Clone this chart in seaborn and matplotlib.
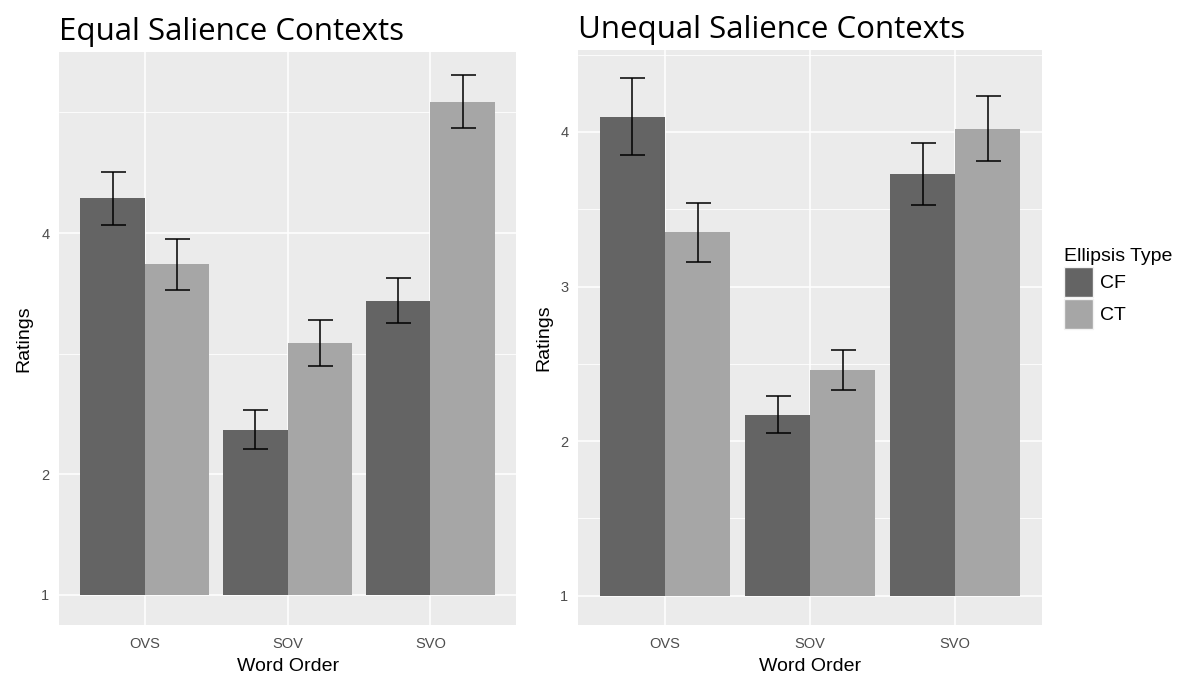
import pandas as pd
import seaborn as sns
import matplotlib.pyplot as plt
from matplotlib.ticker import FixedLocator

# Values
word_order = ['OVS', 'SOV', 'SVO']
ellipsis = ['CF', 'CT']

equal_cf = [4.29, 2.37, 3.44]
equal_ct = [3.74, 3.09, 5.09]
equal_cf_se = [0.22, 0.16, 0.19]
equal_ct_se = [0.21, 0.19, 0.22]

unequal_cf = [4.10, 2.17, 3.73]
unequal_ct = [3.35, 2.46, 4.02]
unequal_cf_se = [0.25, 0.12, 0.20]
unequal_ct_se = [0.19, 0.13, 0.21]

colors = {'CF': '#646464', 'CT': '#a6a6a6'}

sns.set_theme(style='darkgrid')
plt.rcParams['font.family'] = ['Liberation Sans', 'DejaVu Sans']


def make_df(cf, ct, cf_se, ct_se):
    rows = []
    for i, w in enumerate(word_order):
        rows.append({'Word Order': w, 'Ellipsis Type': 'CF', 'Ratings': cf[i], 'se': cf_se[i]})
        rows.append({'Word Order': w, 'Ellipsis Type': 'CT', 'Ratings': ct[i], 'se': ct_se[i]})
    return pd.DataFrame(rows)


def draw(ax, df, title, ylim, major, minor, legend):
    sns.barplot(data=df, x='Word Order', y='Ratings', hue='Ellipsis Type',
                order=word_order, hue_order=ellipsis, palette=colors,
                width=0.9, errorbar=None, saturation=1, linewidth=0,
                legend=legend, ax=ax)
    # bars in the original start at 1
    for p in ax.patches:
        h = p.get_height()
        if h > 0:
            p.set_y(1)
            p.set_height(h - 1)
    # error bars
    for e in ellipsis:
        sub = df[df['Ellipsis Type'] == e]
        xs = [word_order.index(w) + (-0.225 if e == 'CF' else 0.225) for w in sub['Word Order']]
        ax.errorbar(xs, sub['Ratings'], yerr=sub['se'], fmt='none', ecolor='black',
                    elinewidth=1.1, capsize=9, capthick=1.1, zorder=5)
    ax.set_facecolor('#ebebeb')
    ax.set_ylim(*ylim)
    ax.set_xlim(-0.6, 2.6)
    ax.yaxis.set_major_locator(FixedLocator(major))
    ax.yaxis.set_minor_locator(FixedLocator(minor))
    ax.grid(which='major', color='white', linewidth=1.1)
    ax.grid(which='minor', axis='y', color='white', linewidth=0.6)
    ax.set_axisbelow(True)
    for s in ax.spines.values():
        s.set_visible(False)
    ax.tick_params(axis='both', which='major', length=4, width=0.8, color='#333333',
                   labelsize=10.5, labelcolor='#4d4d4d', pad=3)
    ax.tick_params(axis='x', which='major', pad=5)
    ax.tick_params(axis='y', which='minor', length=0)
    ax.set_yticklabels([str(v) for v in major])
    ax.set_xlabel('Word Order', fontsize=14, labelpad=5, color='black')
    ax.set_ylabel('Ratings', fontsize=14, labelpad=6, color='black')
    ax.set_title(title, loc='left', fontsize=22.5, family='Open Sans', pad=9, x=0.0,
                 color='black')


fig = plt.figure(figsize=(11.81, 6.82), dpi=100)
ax1 = fig.add_axes([0.050, 0.0836, 0.387, 0.8400])
ax2 = fig.add_axes([0.4895, 0.0836, 0.3930, 0.8430])

draw(ax1, make_df(equal_cf, equal_ct, equal_cf_se, equal_ct_se),
     'Equal Salience Contexts', (0.75, 5.5), [1, 2, 4], [3, 5], False)
draw(ax2, make_df(unequal_cf, unequal_ct, unequal_cf_se, unequal_ct_se),
     'Unequal Salience Contexts', (0.81, 4.53), [1, 2, 3, 4], [1.5, 2.5, 3.5, 4.5], True)

leg = ax2.legend(title='Ellipsis Type', loc='center left', bbox_to_anchor=(1.01, 0.585),
                 frameon=False, fontsize=14, title_fontsize=14, handlelength=1.45,
                 handleheight=2.0, handletextpad=0.4, labelspacing=0.1)
leg._legend_box.align = 'left'
for h in leg.legend_handles:
    h.set_edgecolor('#f2f2f2')
    h.set_linewidth(1)
for t in leg.get_texts():
    t.set_color('black')
leg.get_title().set_color('black')

fig.savefig('out.png', dpi=100)
